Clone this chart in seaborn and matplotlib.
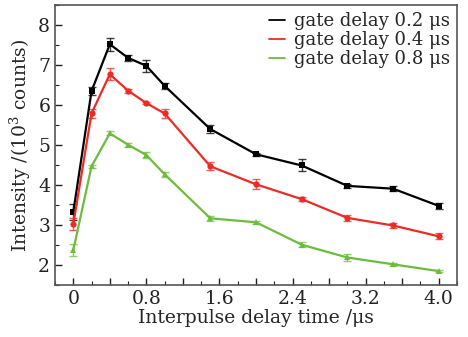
import numpy as np
import pandas as pd
import matplotlib
matplotlib.use("Agg")
import matplotlib.pyplot as plt
import seaborn as sns
from matplotlib.ticker import MultipleLocator, FuncFormatter
from matplotlib.lines import Line2D

delay = [0, 0.2, 0.4, 0.6, 0.8, 1.0, 1.5, 2.0, 2.5, 3.0, 3.5, 4.0]
labels = ["gate delay 0.2 \u03bcs", "gate delay 0.4 \u03bcs", "gate delay 0.8 \u03bcs"]
black = [3.32, 6.35, 7.52, 7.18, 6.98, 6.48, 5.40, 4.77, 4.49, 3.98, 3.91, 3.48]
red = [3.02, 5.79, 6.77, 6.36, 6.05, 5.79, 4.47, 4.02, 3.65, 3.18, 2.99, 2.72]
green = [2.37, 4.47, 5.29, 5.01, 4.75, 4.27, 3.17, 3.07, 2.51, 2.19, 2.02, 1.85]
err_black = [0.20, 0.10, 0.16, 0.08, 0.15, 0.07, 0.10, 0.04, 0.15, 0.05, 0.06, 0.07]
err_red = [0.15, 0.12, 0.15, 0.05, 0.03, 0.12, 0.10, 0.13, 0.04, 0.08, 0.07, 0.08]
err_green = [0.15, 0.04, 0.05, 0.05, 0.07, 0.06, 0.06, 0.04, 0.07, 0.08, 0.04, 0.03]

series = [black, red, green]
errs = [err_black, err_red, err_green]
colors = ["#000000", "#ee2a24", "#6cbd3c"]
markers = ["s", "o", "^"]

df = pd.DataFrame({
    "x": delay * 3,
    "y": black + red + green,
    "series": [l for l in labels for _ in delay],
})

sns.set_style("ticks")
plt.rcParams["font.family"] = ["DejaVu Serif"]
plt.rcParams["mathtext.fontset"] = "dejavuserif"

fig = plt.figure(figsize=(4.68, 3.37), dpi=100)
ax = fig.add_axes([0.1175, 0.154, 0.859, 0.831])

for lab, ys, e, c, m in zip(labels, series, errs, colors, markers):
    ax.errorbar(delay, ys, yerr=e, fmt="none", ecolor=c, elinewidth=1.0,
                capsize=3, capthick=1.0, alpha=0.75, zorder=2)

sns.lineplot(data=df, x="x", y="y", hue="series", style="series",
             palette=dict(zip(labels, colors)),
             markers=dict(zip(labels, markers)),
             dashes=False, markersize=4.5, markeredgewidth=0,
             linewidth=1.6, ax=ax, zorder=3, legend=False)

ax.set_xlim(-0.2, 4.2)
ax.set_ylim(1.5, 8.5)
ax.xaxis.set_major_locator(MultipleLocator(0.4))
ax.xaxis.set_minor_locator(MultipleLocator(0.2))
ax.xaxis.set_major_formatter(FuncFormatter(
    lambda v, p: ("0" if abs(v) < 1e-9 else f"{v:.1f}") if abs(round(v / 0.8) * 0.8 - v) < 1e-6 else ""))
ax.yaxis.set_major_locator(MultipleLocator(1))
ax.yaxis.set_minor_locator(MultipleLocator(0.5))
ax.tick_params(axis="both", which="both", direction="in", top=False, right=False,
               labelsize=13.5, colors="#222222")
ax.tick_params(which="major", length=5, width=1)
ax.tick_params(which="minor", length=3, width=0.8)
for s in ax.spines.values():
    s.set_color("#555555")
    s.set_linewidth(1.2)
    s.set_visible(True)

ax.set_xlabel("Interpulse delay time /\u03bcs", fontsize=13.5, labelpad=1)
ax.set_ylabel("Intensity /(10$^3$ counts)", fontsize=13.5, labelpad=4)

handles = [Line2D([], [], color=c, lw=1.3) for c in colors]
ax.legend(handles, labels, loc="upper right", frameon=False, fontsize=13,
          handlelength=0.9, handletextpad=0.5, labelspacing=0.05,
          borderaxespad=0.0, bbox_to_anchor=(1.0, 1.0))

fig.savefig("out.png", dpi=100)
